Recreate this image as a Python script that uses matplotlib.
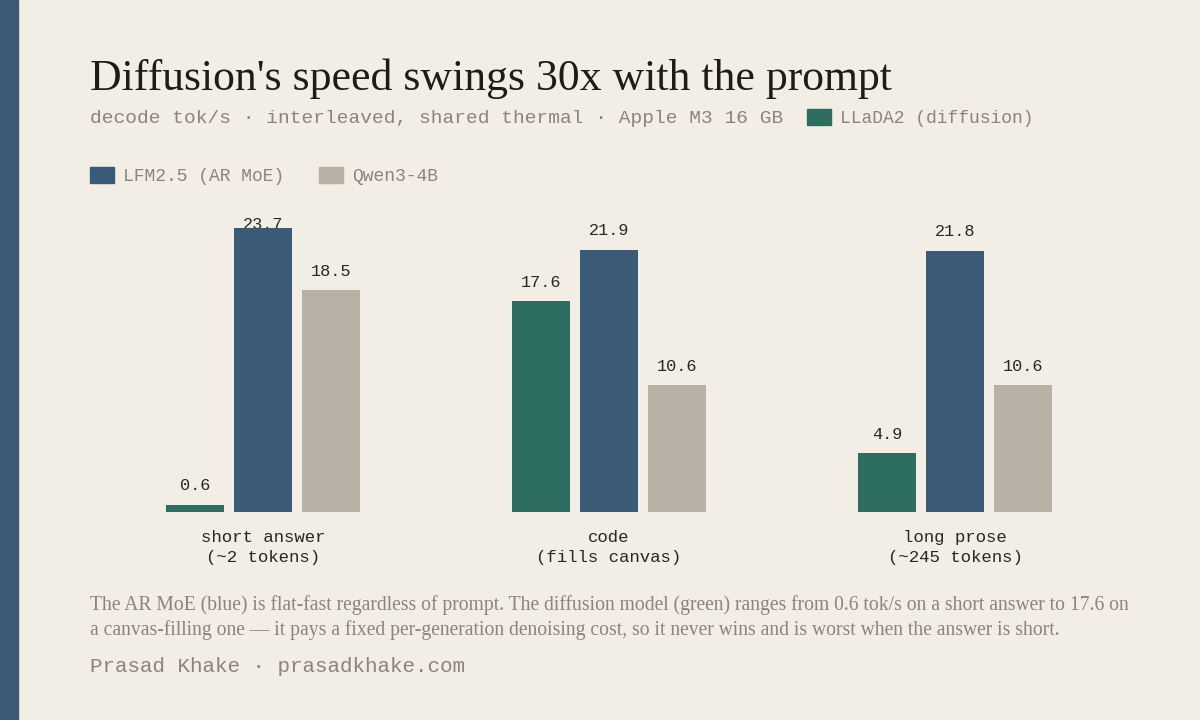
import numpy as np
import matplotlib
matplotlib.use("Agg")
import matplotlib.pyplot as plt
from matplotlib.patches import Rectangle

# data
categories = ["short answer\n(~2 tokens)", "code\n(fills canvas)", "long prose\n(~245 tokens)"]
series = ["LLaDA2 (diffusion)", "LFM2.5 (AR MoE)", "Qwen3-4B"]
llada = [0.6, 17.6, 4.9]
lfm = [23.7, 21.9, 21.8]
qwen = [18.5, 10.6, 10.6]

BG = "#f2ede5"
GREEN = "#2e6e60"
BLUE = "#3a5a78"
GRAY = "#b8b2a6"
INK = "#2a2622"
MUTED = "#8a8479"
MONO = "Liberation Mono"
SERIF = "Liberation Serif"

W, H = 1200, 720
fig = plt.figure(figsize=(12, 7.2), dpi=100, facecolor=BG)

def fx(px):
    return px / W

def fy(py):
    return 1 - py / H

# left accent stripe
fig.patches.append(Rectangle((0, 0), fx(18), 1, transform=fig.transFigure,
                             color=BLUE, zorder=0))

# axes: x from 90 to 1128 px, baseline at 512 px
ax = fig.add_axes([fx(90), fy(512), fx(1038), (512 - 218.5) / H])
ax.set_facecolor(BG)
ax.set_xlim(-0.5, 2.5)
ax.set_ylim(0, 24.5)

x = np.arange(len(categories))
bw = 58 / 346
step = 68 / 346
for i, (vals, col) in enumerate(zip([llada, lfm, qwen], [GREEN, BLUE, GRAY])):
    xs = x + (i - 1) * step
    ax.bar(xs, vals, width=bw, color=col, zorder=3)
    for xi, v in zip(xs, vals):
        ax.text(xi, min(v + 0.95, 23.4), f"{v:.1f}", ha="center", va="bottom",
                fontsize=12.2, family=MONO, color=INK, zorder=2)

ax.set_xticks(x)
ax.set_xticklabels(categories, fontsize=12.5, family=MONO, color=INK, linespacing=1.45)
ax.tick_params(axis="x", length=0, pad=13)
ax.set_yticks([])
for s in ax.spines.values():
    s.set_visible(False)

# title + subtitle
fig.text(fx(90), fy(90), "Diffusion's speed swings 30x with the prompt",
         fontsize=31.5, family=SERIF, color="#1f1b17", va="baseline")
fig.text(fx(90), fy(123), "decode tok/s · interleaved, shared thermal · Apple M3 16 GB",
         fontsize=14, family=MONO, color=MUTED, va="baseline")

# legend (flows after subtitle)
legend_items = [(series[0], GREEN, 807, 109), (series[1], BLUE, 90, 167), (series[2], GRAY, 319, 167)]
for label, col, lx, ly in legend_items:
    fig.patches.append(Rectangle((fx(lx), fy(ly + 16)), fx(24), 16 / H,
                                 transform=fig.transFigure, color=col))
    fig.text(fx(lx + 33), fy(ly + 14), label, fontsize=13, family=MONO,
             color=MUTED, va="baseline")

# caption
caption_lines = [
    "The AR MoE (blue) is flat-fast regardless of prompt. The diffusion model (green) ranges from 0.6 tok/s on a short answer to 17.6 on",
    "a canvas-filling one \u2014 it pays a fixed per-generation denoising cost, so it never wins and is worst when the answer is short.",
]
for k, line in enumerate(caption_lines):
    fig.text(fx(90), fy(610 + 25 * k), line, fontsize=14.15, family=SERIF,
             color=MUTED, va="baseline")

fig.text(fx(90), fy(672), "Prasad Khake · prasadkhake.com", fontsize=15,
         family=MONO, color=MUTED, va="baseline")

fig.savefig("out.png", dpi=100, facecolor=BG)
